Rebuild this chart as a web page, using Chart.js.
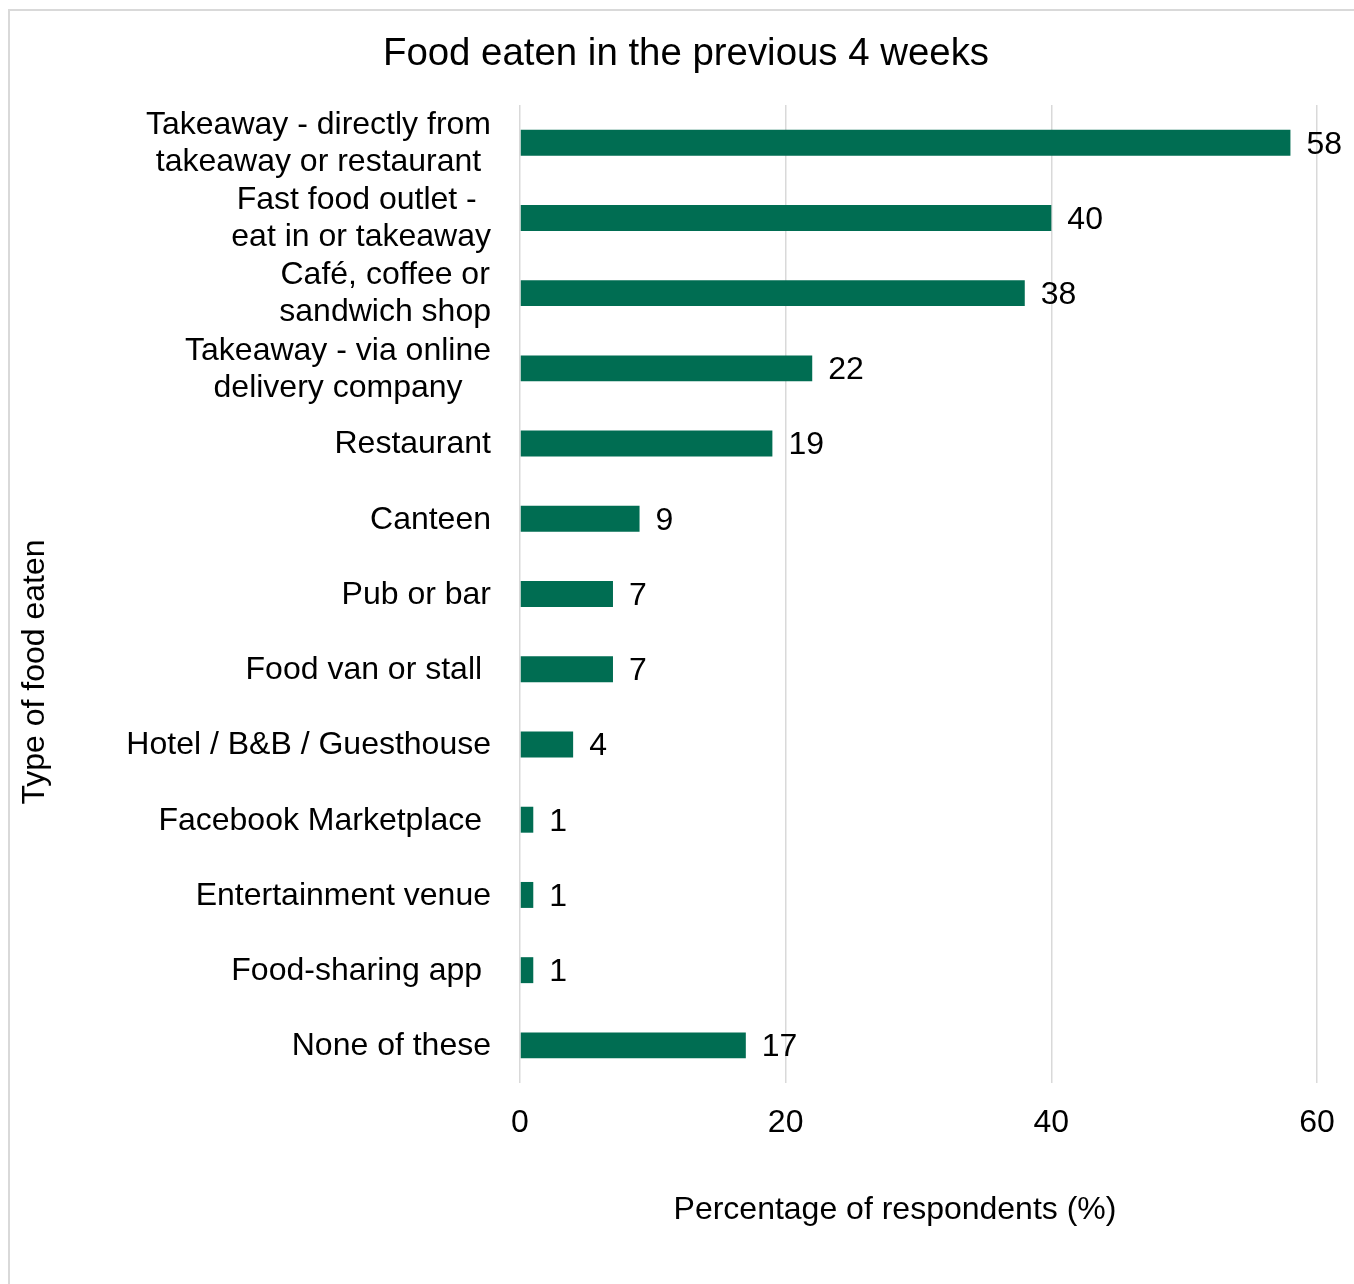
<!DOCTYPE html>
<html>
<head>
<meta charset="utf-8">
<title>Food eaten in the previous 4 weeks</title>
<script src="https://cdn.jsdelivr.net/npm/chart.js@4.4.0/dist/chart.umd.min.js"></script>
<style>
    html, body { margin: 0; padding: 0; background: #fff; overflow: hidden; }
    #frame { position: absolute; left: 8px; top: 9px; width: 1500px; height: 1500px; border: 2px solid #d9d9d9; }
    #foodChart { position: absolute; left: 0; top: 0; }
</style>
</head>
<body>
<div id="frame"></div>
<canvas id="foodChart" width="1354" height="1284"></canvas>
<script>
// category labels, one array per label (one entry per line)
const categories = [
    ['Takeaway - directly from', 'takeaway or restaurant'],
    ['Fast food outlet - ', 'eat in or takeaway'],
    ['Café, coffee or', 'sandwich shop'],
    ['Takeaway - via online', 'delivery company'],
    ['Restaurant'],
    ['Canteen'],
    ['Pub or bar'],
    ['Food van or stall '],
    ['Hotel / B&B / Guesthouse'],
    ['Facebook Marketplace '],
    ['Entertainment venue'],
    ['Food-sharing app '],
    ['None of these']
];
const values = [58, 40, 38, 22, 19, 9, 7, 7, 4, 1, 1, 1, 17];
const xTicks = [0, 20, 40, 60];

const chartTitle = 'Food eaten in the previous 4 weeks';
const xTitle = 'Percentage of respondents (%)';
const yTitle = 'Type of food eaten';

const FONT = "Arial, 'Liberation Sans', sans-serif";
const barColor = '#006D52';

// Excel style labels: category text centred per block, value labels, axis titles
const excelLabels = {
    id: 'excelLabels',
    afterDatasetsDraw(chart) {
        const ctx = chart.ctx;
        const yScale = chart.scales.y;
        const area = chart.chartArea;
        ctx.save();
        ctx.font = '32px ' + FONT;
        ctx.fillStyle = '#000';
        ctx.textBaseline = 'middle';

        const labelRight = area.left - 29;
        const lineGap = 37;
        ctx.textAlign = 'center';
        categories.forEach((lines, i) => {
            const y = yScale.getPixelForTick(i) + 1;
            const widest = Math.max(...lines.map(l => ctx.measureText(l).width));
            const cx = labelRight - widest / 2;
            lines.forEach((line, j) => {
                ctx.fillText(line, cx, y + (j - (lines.length - 1) / 2) * lineGap);
            });
        });

        ctx.textAlign = 'left';
        chart.getDatasetMeta(0).data.forEach((bar, i) => {
            ctx.fillText(String(values[i]), bar.x + 16, bar.y + 2);
        });

        ctx.textAlign = 'center';
        ctx.fillText(xTitle, 895, 1210);

        ctx.translate(35, 672);
        ctx.rotate(-Math.PI / 2);
        ctx.fillText(yTitle, 0, 0);
        ctx.restore();
    }
};

const ctx = document.getElementById('foodChart').getContext('2d');
new Chart(ctx, {
    type: 'bar',
    data: {
        labels: categories,
        datasets: [{
            data: values,
            backgroundColor: barColor,
            borderWidth: 0,
            categoryPercentage: 1,
            barPercentage: 0.345
        }]
    },
    options: {
        indexAxis: 'y',
        responsive: false,
        animation: false,
        layout: {
            padding: { left: 36, right: 18, top: 0, bottom: 0 }
        },
        scales: {
            x: {
                min: 0,
                max: 60,
                afterBuildTicks: scale => {
                    scale.ticks = xTicks.map(v => ({ value: v }));
                },
                afterFit: scale => {
                    scale.height = 201;
                    scale.paddingRight = 37;
                },
                grid: { color: '#d9d9d9', lineWidth: 1.5, drawTicks: false },
                border: { display: false },
                ticks: {
                    color: '#000',
                    padding: 21,
                    font: { family: FONT, size: 32 }
                }
            },
            y: {
                afterFit: scale => { scale.width = 484; },
                grid: { display: false },
                border: { display: false },
                ticks: { display: false }
            }
        },
        plugins: {
            legend: { display: false },
            tooltip: { enabled: false },
            title: {
                display: true,
                text: chartTitle,
                color: '#000',
                font: { family: FONT, size: 38.4, weight: 'normal', lineHeight: 1.2 },
                padding: { top: 31, bottom: 28 }
            }
        }
    },
    plugins: [excelLabels]
});
</script>
</body>
</html>
